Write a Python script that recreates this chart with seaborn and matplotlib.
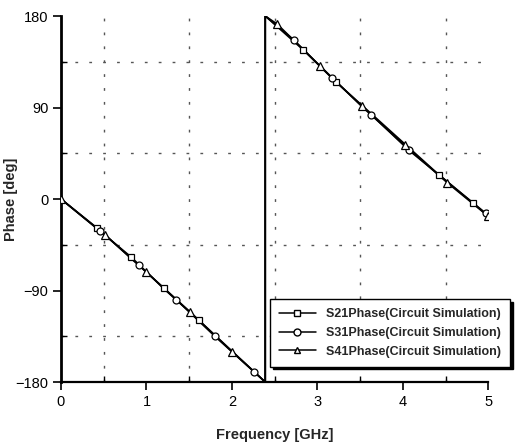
import numpy as np
import pandas as pd
import matplotlib
matplotlib.use("Agg")
import matplotlib.pyplot as plt
import seaborn as sns
from matplotlib.ticker import MultipleLocator

sns.set_theme(style="white")
plt.rcParams['font.family'] = ['Liberation Sans', 'DejaVu Sans']

# ---- data ----
series_names = ["S21Phase(Circuit Simulation)",
                "S31Phase(Circuit Simulation)",
                "S41Phase(Circuit Simulation)"]

s21_freq  = [0.42, 0.82, 1.20, 1.61, 2.83, 3.22, 4.42, 4.82]
s21_phase = [-29, -57, -88, -119, 147, 115, 24, -4]

s31_freq  = [0.46, 0.91, 1.35, 1.80, 2.26, 2.73, 3.17, 3.63, 4.07, 4.97]
s31_phase = [-31, -65, -99, -135, -170, 156, 119, 83, 48, -14]

s41_freq  = [0.0, 0.51, 1.00, 1.51, 2.00, 2.53, 3.03, 3.52, 4.02, 4.52, 5.00]
s41_phase = [0, -35, -72, -111, -150, 172, 131, 91, 53, 16, -17]

start_freq, start_phase = 0.0, 0.0
wrap_freq = 2.39
end_freq, end_phase = 5.0, -17.0

markers = ['s', 'o', '^']
marker_data = [(s21_freq, s21_phase), (s31_freq, s31_phase), (s41_freq, s41_phase)]

def trace(fr, ph):
    pts = [(start_freq, start_phase)] + list(zip(fr, ph)) + [(end_freq, end_phase)]
    pts = sorted(set(pts))
    lower = [p for p in pts if p[0] < wrap_freq] + [(wrap_freq, -180.0)]
    upper = [(wrap_freq, 180.0)] + [p for p in pts if p[0] > wrap_freq]
    return pd.DataFrame(lower + upper, columns=["freq", "phase"])

fig = plt.figure(figsize=(5.23, 4.42), dpi=100)
ax = fig.add_axes([0.1166, 0.1357, 0.8171, 0.8281])

for name, mk, (fr, ph) in zip(series_names, markers, marker_data):
    df = trace(fr, ph)
    sns.lineplot(data=df, x="freq", y="phase", sort=False, ax=ax,
                 color="black", linewidth=1.2, estimator=None)
    dm = pd.DataFrame({"freq": fr, "phase": ph})
    ax.plot(dm["freq"], dm["phase"], linestyle="none", marker=mk,
            markersize=6 if mk == '^' else 5, markerfacecolor="white",
            markeredgecolor="black", markeredgewidth=0.9, zorder=3)

ax.set_xlim(0, 5)
ax.set_ylim(-180, 180)
ax.xaxis.set_major_locator(MultipleLocator(1))
ax.xaxis.set_minor_locator(MultipleLocator(0.5))
ax.yaxis.set_major_locator(MultipleLocator(90))
ax.yaxis.set_minor_locator(MultipleLocator(45))

ax.grid(False)
ax.grid(which="minor", color="#555555", linestyle=(0, (2, 8)), linewidth=1.0)

for s in ["top", "right"]:
    ax.spines[s].set_visible(False)
ax.spines["left"].set_linewidth(2.0)
ax.spines["bottom"].set_linewidth(1.6)
ax.spines["left"].set_color("black")
ax.spines["bottom"].set_color("black")

ax.tick_params(which="major", direction="out", length=6, width=1.2, color="black",
               labelsize=10.5, labelcolor="black", left=True, bottom=True, pad=3)
ax.tick_params(which="minor", direction="in", length=4, width=1.0, color="black",
               left=True, bottom=True)

ax.set_xlabel("Frequency [GHz]", fontsize=10.5, fontweight="bold", labelpad=14)
ax.set_ylabel("Phase [deg]", fontsize=10.5, fontweight="bold")
ax.yaxis.set_label_coords(-0.10, 0.5)

handles = [plt.Line2D([], [], color="black", linewidth=1.1, marker=mk,
                      markersize=5, markerfacecolor="white", markeredgecolor="black")
           for mk in markers]
leg = ax.legend(handles, series_names, loc="lower right", bbox_to_anchor=(1.065, 0.025),
                frameon=True, fancybox=False, edgecolor="black", framealpha=1,
                prop={"weight": "bold", "size": 9}, handlelength=3.0,
                borderpad=0.7, labelspacing=0.55,
                shadow={"color": "black", "alpha": 1.0})
leg.get_frame().set_linewidth(1.0)
leg.set_zorder(5)

fig.savefig("out.png", dpi=100)
